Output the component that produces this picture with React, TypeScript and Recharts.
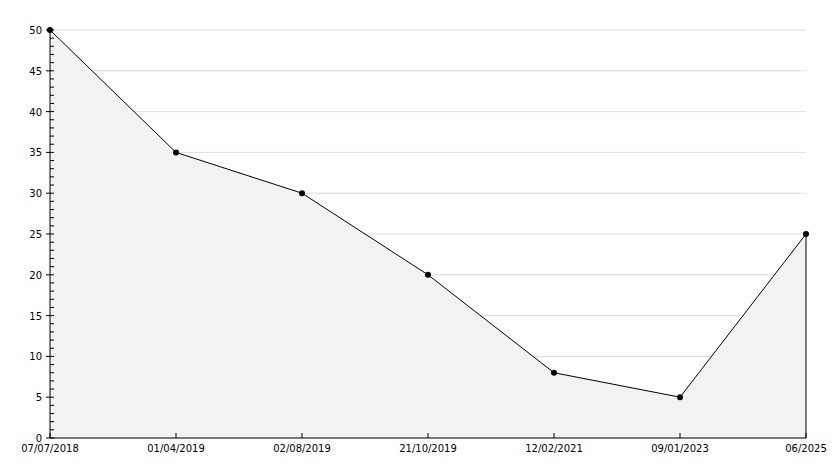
import React from 'react';
import { AreaChart, Area, XAxis, YAxis, CartesianGrid, ReferenceLine } from 'recharts';

const dates = ['07/07/2018', '01/04/2019', '02/08/2019', '21/10/2019', '12/02/2021', '09/01/2023', '06/2025'];
const values = [50, 35, 30, 20, 8, 5, 25];
const yMajorTicks = [0, 5, 10, 15, 20, 25, 30, 35, 40, 45, 50];
const yAllTicks = Array.from({ length: 51 }, (_, i) => i);

const data = dates.map((d, i) => ({ date: d, value: values[i] }));
const lastPoint = data[data.length - 1];

const FONT = '"DejaVu Sans", sans-serif';

// y ticks: majors get a label and a crossing tick, minors only a short inward tick
const YTick = (props: any) => {
  const { x, y, payload } = props;
  const major = payload.value % 5 === 0;
  return (
    <g>
      <line x1={major ? x - 4 : x} x2={x + 4} y1={y} y2={y} stroke="#000" strokeWidth={1} />
      {major && (
        <text x={x - 8} y={y} dy={4} textAnchor="end" fontSize={10} fontFamily={FONT} fill="#000">
          {payload.value}
        </text>
      )}
    </g>
  );
};

const XTick = (props: any) => {
  const { x, y, payload } = props;
  return (
    <g>
      <line x1={x} x2={x} y1={y} y2={y - 5} stroke="#000" strokeWidth={1} />
      <text x={x} y={y} dy={14} textAnchor="middle" fontSize={10} fontFamily={FONT} fill="#000">
        {payload.value}
      </text>
    </g>
  );
};

const Dot = (props: any) => {
  const { cx, cy, index } = props;
  return <circle key={index} cx={cx} cy={cy} r={3} fill="#000" stroke="none" />;
};

export default function App() {
  return (
    <div style={{ position: 'absolute', left: 0, top: 0, width: 834, height: 468, background: '#fff' }}>
      <AreaChart width={834} height={468} data={data} margin={{ top: 30, right: 28, bottom: 0, left: 10 }}>
        <CartesianGrid
          vertical={false}
          horizontalValues={yMajorTicks}
          stroke="#dddddd"
          strokeWidth={1}
        />
        <XAxis
          dataKey="date"
          type="category"
          interval={0}
          padding={{ left: 0, right: 0 }}
          axisLine={{ stroke: '#000', strokeWidth: 1 }}
          tickLine={false}
          tickSize={0}
          tickMargin={0}
          tick={<XTick />}
          height={30}
        />
        <YAxis
          type="number"
          domain={[0, 50]}
          ticks={yAllTicks}
          interval={0}
          width={40}
          axisLine={{ stroke: '#000', strokeWidth: 1 }}
          tickLine={false}
          tickSize={0}
          tickMargin={0}
          tick={<YTick />}
        />
        <Area
          type="linear"
          dataKey="value"
          stroke="#000"
          strokeWidth={1}
          fill="#f2f2f2"
          fillOpacity={1}
          dot={<Dot />}
          activeDot={false}
          isAnimationActive={false}
        />
        <ReferenceLine
          segment={[
            { x: lastPoint.date, y: 0 },
            { x: lastPoint.date, y: lastPoint.value },
          ]}
          stroke="#000"
          strokeWidth={1}
        />
      </AreaChart>
    </div>
  );
}
